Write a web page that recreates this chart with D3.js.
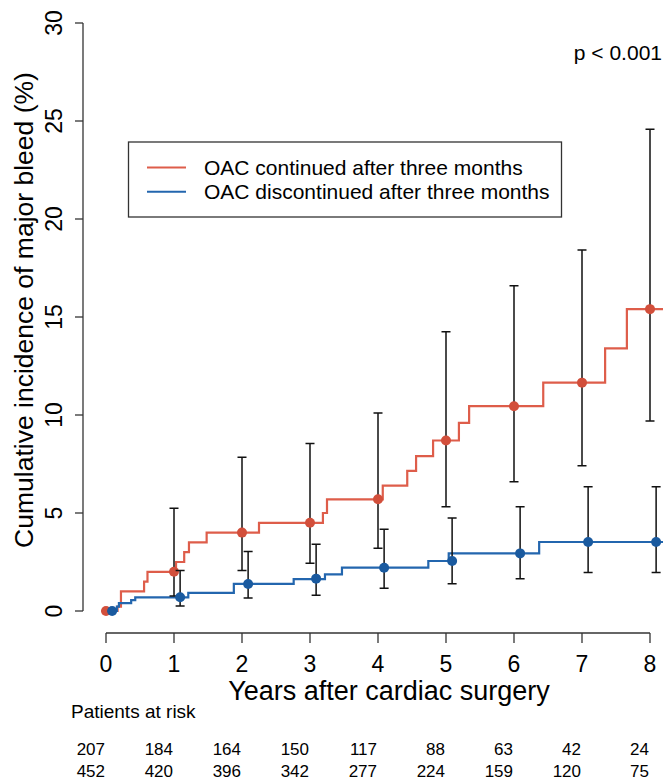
<!DOCTYPE html>
<html>
<head>
<meta charset="utf-8">
<script src="https://cdn.jsdelivr.net/npm/d3@7"></script>
<style>
  html, body { margin: 0; padding: 0; background: #fff; }
  svg { display: block; font-family: "Liberation Sans", Arial, sans-serif; }
</style>
</head>
<body>
<div id="chart"></div>
<script>
// Years where estimates and numbers at risk are reported
const years = [0, 1, 2, 3, 4, 5, 6, 7, 8];

// Step curves (time in years, cumulative incidence in %)
const contTimes  = [0, 0.17, 0.22, 0.56, 0.61, 1.03, 1.15, 1.22, 1.48, 2.25, 3.19, 3.25, 4.07, 4.43, 4.56, 4.81, 5.19, 5.34, 6.43, 7.34, 7.66, 8.4];
const contValues = [0, 0.22, 1.0, 1.5, 2.0, 2.5, 3.0, 3.5, 4.0, 4.5, 5.0, 5.7, 6.4, 7.15, 7.9, 8.7, 9.6, 10.45, 11.65, 13.4, 15.4, 15.4];
const discTimes  = [0, 0.16, 0.19, 0.37, 0.43, 1.21, 1.88, 2.76, 3.22, 3.47, 4.74, 5.04, 6.37, 8.4];
const discValues = [0, 0.22, 0.4, 0.55, 0.7, 0.92, 1.38, 1.63, 1.87, 2.21, 2.55, 2.94, 3.52, 3.52];

// Yearly estimates with 95% CI
const contEst  = [0, 2.0, 4.0, 4.5, 5.7, 8.7, 10.45, 11.65, 15.4];
const contLow  = [0, 0.77, 2.06, 2.43, 3.2, 5.32, 6.6, 7.41, 9.69];
const contHigh = [0, 5.24, 7.84, 8.55, 10.1, 14.25, 16.6, 18.42, 24.58];
const discEst  = [0, 0.7, 1.38, 1.65, 2.21, 2.55, 2.94, 3.52, 3.52];
const discLow  = [0, 0.26, 0.66, 0.8, 1.16, 1.39, 1.65, 1.97, 1.97];
const discHigh = [0, 2.06, 3.03, 3.4, 4.17, 4.74, 5.32, 6.34, 6.34];

// Patients at risk
const riskCont = [207, 184, 164, 150, 117, 88, 63, 42, 24];
const riskDisc = [452, 420, 396, 342, 277, 224, 159, 120, 75];

const yTicks = [0, 5, 10, 15, 20, 25, 30];
const seriesNames = ["OAC continued after three months", "OAC discontinued after three months"];

const width = 663, height = 779;
const red = "#de5d4a", redDot = "#d24f3b";
const blue = "#2366ae", blueDot = "#1a5a9f";
const dodge = 0.09; // second group drawn slightly to the right

const svg = d3.select("#chart").append("svg")
  .attr("width", width)
  .attr("height", height)
  .attr("viewBox", [0, 0, width, height]);

const x = d3.scaleLinear().domain([0, 8]).range([106, 650]);
const y = d3.scaleLinear().domain([0, 30]).range([611, 23]);

// y axis (R style: line spans first to last tick)
const yAxis = svg.append("g");
yAxis.append("line")
  .attr("x1", 83).attr("x2", 83)
  .attr("y1", y(0)).attr("y2", y(30))
  .attr("stroke", "#333").attr("stroke-width", 1.3);
yAxis.selectAll(".tick")
  .data(yTicks)
  .join("line")
  .attr("x1", 75).attr("x2", 83)
  .attr("y1", d => y(d)).attr("y2", d => y(d))
  .attr("stroke", "#333").attr("stroke-width", 1.3);
yAxis.selectAll("text")
  .data(yTicks)
  .join("text")
  .attr("transform", d => `translate(61.5,${y(d)}) rotate(-90)`)
  .attr("text-anchor", "middle")
  .style("font-size", "23px")
  .text(d => d);

// x axis
const xAxisY = 633;
const xAxis = svg.append("g");
xAxis.append("line")
  .attr("x1", x(0)).attr("x2", x(8))
  .attr("y1", xAxisY).attr("y2", xAxisY)
  .attr("stroke", "#333").attr("stroke-width", 1.3);
xAxis.selectAll(".tick")
  .data(years)
  .join("line")
  .attr("x1", d => x(d)).attr("x2", d => x(d))
  .attr("y1", xAxisY).attr("y2", xAxisY + 10)
  .attr("stroke", "#333").attr("stroke-width", 1.3);
xAxis.selectAll("text")
  .data(years)
  .join("text")
  .attr("x", d => x(d))
  .attr("y", 671.5)
  .attr("text-anchor", "middle")
  .style("font-size", "23px")
  .text(d => d);

// axis titles
svg.append("text")
  .attr("x", 389).attr("y", 700)
  .attr("text-anchor", "middle")
  .style("font-size", "27px")
  .text("Years after cardiac surgery");

svg.append("text")
  .attr("transform", "translate(33,310) rotate(-90)")
  .attr("text-anchor", "middle")
  .style("font-size", "26.5px")
  .text("Cumulative incidence of major bleed (%)");

// step curves
const step = d3.line()
  .x(d => x(d[0]))
  .y(d => y(d[1]))
  .curve(d3.curveStepAfter);

svg.append("path")
  .attr("d", step(d3.zip(contTimes, contValues)))
  .attr("fill", "none")
  .attr("stroke", red)
  .attr("stroke-width", 2.2);

svg.append("path")
  .attr("d", step(d3.zip(discTimes, discValues)))
  .attr("fill", "none")
  .attr("stroke", blue)
  .attr("stroke-width", 2.2);

// error bars + points
function drawEstimates(est, low, high, offset, color) {
  const g = svg.append("g");
  const rows = years.map((t, i) => ({t: t + offset, est: est[i], low: low[i], high: high[i]}));
  const cap = 4.5;
  g.selectAll(".bar")
    .data(rows)
    .join("path")
    .attr("d", d => `M${x(d.t)},${y(d.low)}V${y(d.high)}` +
      `M${x(d.t) - cap},${y(d.low)}H${x(d.t) + cap}` +
      `M${x(d.t) - cap},${y(d.high)}H${x(d.t) + cap}`)
    .attr("fill", "none")
    .attr("stroke", "#111")
    .attr("stroke-width", 1.5);
  g.selectAll("circle")
    .data(rows)
    .join("circle")
    .attr("cx", d => x(d.t))
    .attr("cy", d => y(d.est))
    .attr("r", 5)
    .attr("fill", color);
}
drawEstimates(contEst, contLow, contHigh, 0, redDot);
drawEstimates(discEst, discLow, discHigh, dodge, blueDot);

// legend
const legend = svg.append("g");
legend.append("rect")
  .attr("x", 128.5).attr("y", 142)
  .attr("width", 433).attr("height", 75)
  .attr("fill", "#fff")
  .attr("stroke", "#333")
  .attr("stroke-width", 1.3);
legend.selectAll("line")
  .data(seriesNames)
  .join("line")
  .attr("x1", 147).attr("x2", 186)
  .attr("y1", (d, i) => 167.5 + i * 24.3)
  .attr("y2", (d, i) => 167.5 + i * 24.3)
  .attr("stroke", (d, i) => i === 0 ? red : blue)
  .attr("stroke-width", 2);
legend.selectAll("text")
  .data(seriesNames)
  .join("text")
  .attr("x", 204)
  .attr("y", (d, i) => 175 + i * 23.5)
  .style("font-size", "21px")
  .text(d => d);

// p value
svg.append("text")
  .attr("x", 662).attr("y", 59.5)
  .attr("text-anchor", "end")
  .style("font-size", "21px")
  .text("p < 0.001");

// patients at risk table
svg.append("text")
  .attr("x", 71).attr("y", 718.3)
  .style("font-size", "19px")
  .text("Patients at risk");

[riskCont, riskDisc].forEach((row, r) => {
  svg.append("g")
    .selectAll("text")
    .data(row)
    .join("text")
    .attr("x", (d, i) => x(years[i]) - 1)
    .attr("y", 755 + r * 21.5)
    .attr("text-anchor", "end")
    .style("font-size", "17px")
    .text(d => d);
});
</script>
</body>
</html>
